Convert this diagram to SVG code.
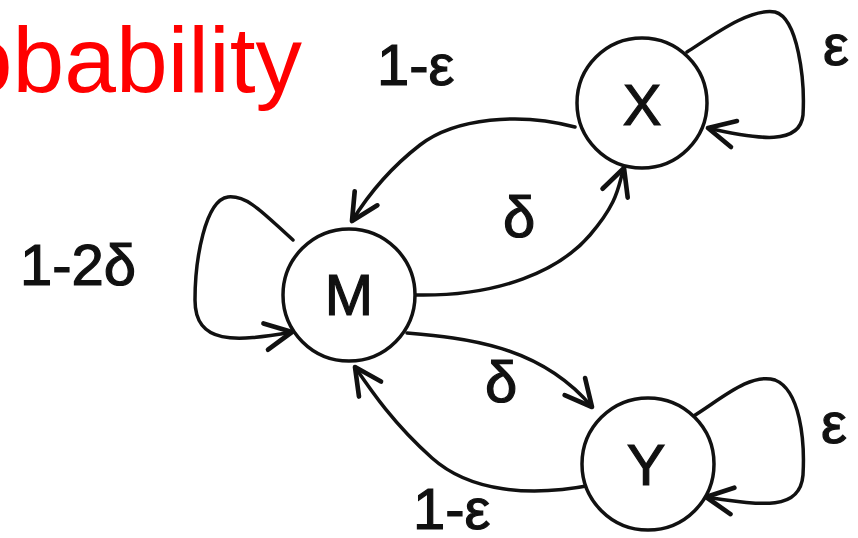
<svg xmlns="http://www.w3.org/2000/svg" width="858" height="538" viewBox="0 0 858 538">
  <defs>
    <style>
      .node circle { fill: #fff; stroke: #111; stroke-width: 3.5; }
      .node text, .lbl { font-family: "Liberation Sans", Arial, sans-serif; font-size: 58px; fill: #111; stroke: #111; stroke-width: 1.2; }
      .node text { text-anchor: middle; }
      .edge { fill: none; stroke: #111; stroke-width: 3.5; stroke-linecap: round; marker-end: url(#arrow); }
      .title { font-family: "Liberation Sans", Arial, sans-serif; font-size: 93px; fill: #ff0000; text-anchor: end; }
    </style>
    <marker id="arrow" markerUnits="userSpaceOnUse" markerWidth="40" markerHeight="40" refX="0" refY="0" viewBox="-25 -15 30 30" orient="auto">
      <path d="M -20,-10 L 0,0 L -20,10" fill="none" stroke="#111" stroke-width="3.5" stroke-linecap="round" stroke-linejoin="round"/>
    </marker>
  </defs>
  <rect width="858" height="538" fill="#fff"/>
  <text class="title" x="302" y="92">Probability</text>

  <g id="connectors">
    <path id="e-x-m" class="edge" d="M575,127 C520,112 455,118 420,145 S365,200 352,221"/>
    <path id="e-m-x" class="edge" d="M414,295 C500,297 560,270 590,235 S618,185 624,168"/>
    <path id="e-m-y" class="edge" d="M407,333 C465,338 540,345 592,407"/>
    <path id="e-y-m" class="edge" d="M592,485 C530,497 470,492 432,458 S372,392 355,367"/>
    <path id="e-x-x" class="edge" d="M687,52 C715,34 750,8 775,12 C798,18 805,80 803,115 C800,145 760,140 708,128"/>
    <path id="e-y-y" class="edge" d="M692,417 C720,400 750,372 775,380 C800,390 805,440 803,475 C800,512 760,505 706,497"/>
    <path id="e-m-m" class="edge" d="M293,240 C265,215 248,195 228,197 C205,200 195,260 195,300 C195,345 235,342 292,332"/>
  </g>

  <g id="node-x" class="node">
    <circle cx="642" cy="103" r="65"/>
    <text x="642" y="125">X</text>
  </g>
  <g id="node-m" class="node">
    <circle cx="349" cy="295" r="66"/>
    <text x="349" y="315">M</text>
  </g>
  <g id="node-y" class="node">
    <circle cx="648" cy="464" r="66"/>
    <text x="646" y="485">Y</text>
  </g>

  <g id="labels">
    <text class="lbl" x="377" y="85">1-ε</text>
    <text class="lbl" x="823" y="65">ε</text>
    <text class="lbl" x="20" y="285">1-2δ</text>
    <text class="lbl" x="503" y="237">δ</text>
    <text class="lbl" x="485" y="402">δ</text>
    <text class="lbl" x="413" y="529">1-ε</text>
    <text class="lbl" x="821" y="443">ε</text>
  </g>
</svg>
